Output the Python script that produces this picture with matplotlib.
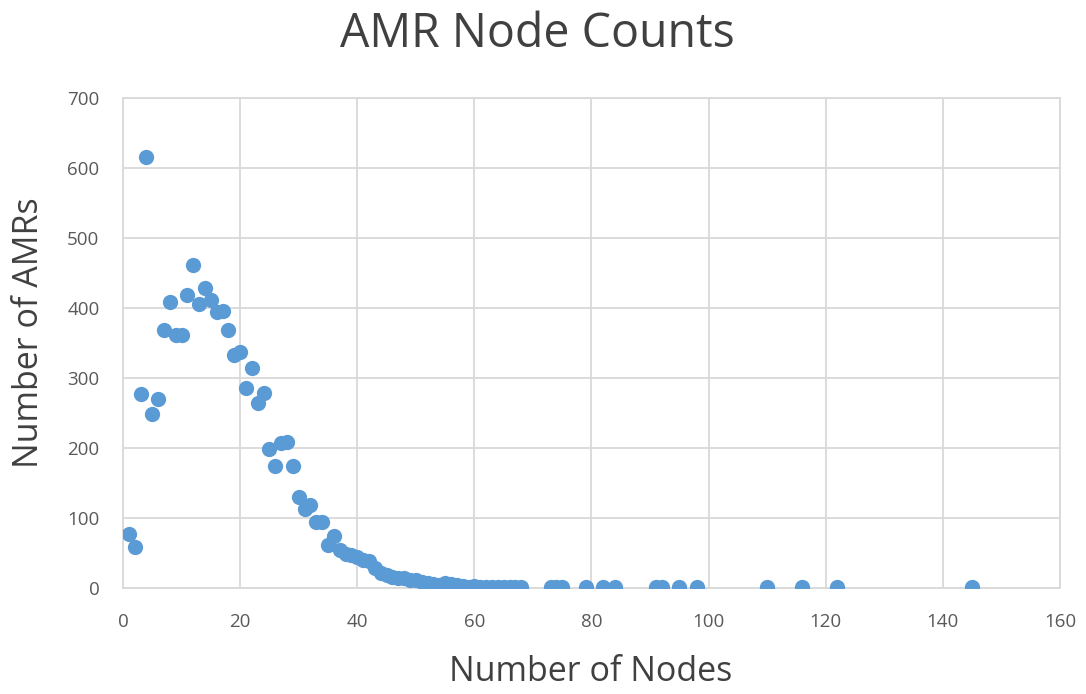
import matplotlib
matplotlib.use('Agg')
import matplotlib.pyplot as plt

# number of nodes per AMR vs how many AMRs have that count
nodes = [1, 2, 3, 4, 5, 6, 7, 8, 9, 10,
         11, 12, 13, 14, 15, 16, 17, 18, 19, 20,
         21, 22, 23, 24, 25, 26, 27, 28, 29, 30,
         31, 32, 33, 34, 35, 36, 37, 38, 39, 40,
         41, 42, 43, 44, 45, 46, 47, 48, 49, 50,
         51, 52, 53, 54, 55, 56, 57, 58, 59, 60,
         61, 62, 63, 64, 65, 66, 67, 68, 73, 74,
         75, 79, 82, 84, 91, 92, 95, 98, 110, 116,
         122, 145]
amrs = [77, 58, 277, 615, 249, 270, 368, 409, 362, 362,
        419, 462, 406, 428, 412, 394, 396, 368, 333, 337,
        286, 314, 264, 278, 198, 174, 207, 209, 174, 130,
        113, 119, 94, 94, 62, 74, 55, 48, 47, 44,
        40, 38, 28, 22, 18, 16, 15, 14, 11, 12,
        9, 7, 6, 4, 7, 6, 4, 3, 2, 3,
        2, 1, 2, 1, 1, 1, 1, 1, 1, 1,
        1, 1, 1, 1, 1, 1, 1, 1, 1, 1,
        1, 1]

xticks = list(range(0, 161, 20))
yticks = list(range(0, 701, 100))

plt.rcParams['font.family'] = ['Open Sans', 'DejaVu Sans']

fig = plt.figure(figsize=(10.86, 6.94), dpi=100)
ax = fig.add_axes([0.1133, 0.1527, 0.8627, 0.7061])

ax.plot(nodes, amrs, linestyle='none', marker='o', markersize=11,
        color='#5B9BD5', markeredgewidth=0, zorder=3)

ax.set_xlim(0, 160)
ax.set_ylim(0, 700)
ax.set_xticks(xticks)
ax.set_yticks(yticks)
ax.grid(True, color='#d9d9d9', linewidth=1.3)
ax.set_axisbelow(True)
for s in ax.spines.values():
    s.set_color('#d9d9d9')
    s.set_linewidth(1.3)
ax.tick_params(length=0, labelsize=13.5, labelcolor='#595959')
ax.tick_params(axis='y', pad=17)
ax.tick_params(axis='x', pad=18)

fig.text(0.495, 0.951, 'AMR Node Counts', fontsize=33.5, color='#404040',
         ha='center', va='center')
fig.text(0.544, 0.031, 'Number of Nodes', fontsize=24.5, color='#404040',
         ha='center', va='center')
fig.text(0.027, 0.52, 'Number of AMRs', fontsize=24.5, color='#404040',
         ha='center', va='center', rotation=90)

fig.savefig('out.png', dpi=100)
